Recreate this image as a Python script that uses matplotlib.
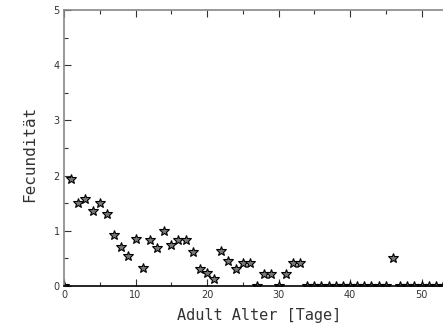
import matplotlib
matplotlib.use('Agg')
import matplotlib.pyplot as plt
from matplotlib.ticker import MultipleLocator

# Fecundität je Tag des adulten Alters
alter = list(range(0, 56))
fecunditaet = [0.00, 1.94, 1.50, 1.57, 1.36, 1.50, 1.30, 0.93, 0.70, 0.54,
               0.85, 0.32, 0.84, 0.68, 1.00, 0.74, 0.83, 0.83, 0.61, 0.31,
               0.24, 0.13, 0.64, 0.45, 0.30, 0.42, 0.42, 0.00, 0.22, 0.22,
               0.00, 0.22, 0.41, 0.41, 0.00, 0.00, 0.00, 0.00, 0.00, 0.00,
               0.00, 0.00, 0.00, 0.00, 0.00, 0.00, 0.51, 0.00, 0.00, 0.00,
               0.00, 0.00, 0.00, 0.00, 0.00, 0.00]

fig = plt.figure(figsize=(4.43, 3.31), dpi=100)
# x-Achse reicht bis 55, rechter Rand liegt ausserhalb des Bildes
ax = fig.add_axes([0.1445, 0.136, 55 * 7.15 / 443, 0.834])

ax.plot(alter, fecunditaet, linestyle='none', marker='*', markersize=7.5,
        markerfacecolor='#777777', markeredgecolor='black', markeredgewidth=0.8)

ax.set_xlim(0, 55)
ax.set_ylim(0, 5)
ax.xaxis.set_major_locator(MultipleLocator(10))
ax.xaxis.set_minor_locator(MultipleLocator(5))
ax.yaxis.set_major_locator(MultipleLocator(1))
ax.yaxis.set_minor_locator(MultipleLocator(0.5))

ax.tick_params(which='both', direction='in', top=True, right=False,
               labelsize=7, colors='#333333', pad=3)
ax.tick_params(which='major', length=5, width=0.8)
ax.tick_params(which='minor', length=3, width=0.8)

for side in ['left', 'top']:
    ax.spines[side].set_color('#888888')
    ax.spines[side].set_linewidth(1.2)
ax.spines['bottom'].set_color('black')
ax.spines['bottom'].set_linewidth(1.2)
ax.spines['right'].set_visible(False)

ax.set_xlabel('Adult Alter [Tage]', family='DejaVu Sans Mono', fontsize=11,
              color='#333333')
ax.set_ylabel('Fecundität', family='DejaVu Sans Mono', fontsize=11.5,
              color='#333333')
ax.xaxis.set_label_coords((259 - 64) / (55 * 7.15), -0.08)
ax.yaxis.set_label_coords(-34 / (55 * 7.15), 0.48)
ax.yaxis.label.set_verticalalignment('center')

fig.savefig('out.png', dpi=100)
